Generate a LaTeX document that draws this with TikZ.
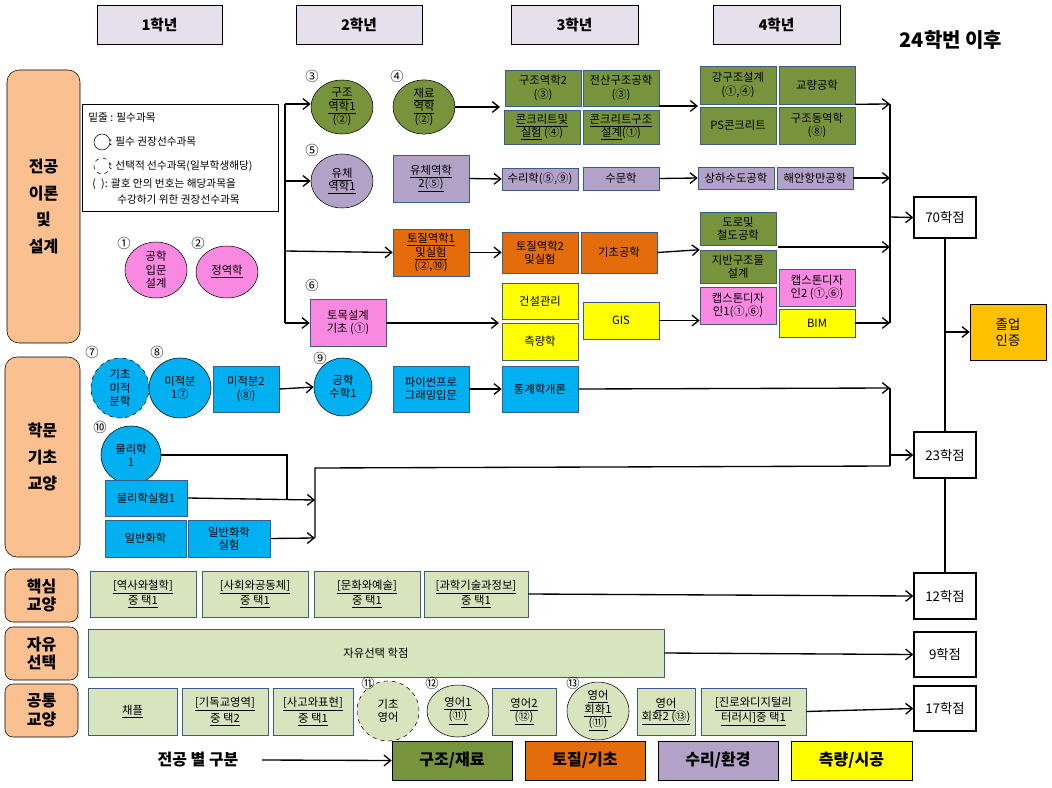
\documentclass[tikz,border=0pt]{standalone}
\usepackage{fontspec}
\setmainfont{Noto Sans CJK KR}
\usetikzlibrary{shapes.geometric,arrows.meta}
\definecolor{cg}{HTML}{77933C}
\definecolor{co}{HTML}{E46C0A}
\definecolor{cp}{HTML}{B3A2C7}
\definecolor{cy}{HTML}{FFFF00}
\definecolor{ck}{HTML}{F888E0}
\definecolor{cb}{HTML}{00B0F0}
\definecolor{cl}{HTML}{D7E4BD}
\definecolor{ch}{HTML}{E6E0EC}
\definecolor{cf}{HTML}{FAC090}
\definecolor{cgold}{HTML}{FFC000}
\definecolor{bd}{HTML}{385D8A}
\newcommand\bx[7]{\node[#6, minimum width={(#4-#2)*0.75pt}, minimum height={(#5-#3)*0.75pt}] (#1) at ({(#2+#4)/2},{(#3+#5)/2}) {#7};}
\newcommand\el[7]{\node[ellipse, draw=black, inner sep=0pt, align=center, font=\fontsize{8.5}{10}\selectfont, minimum width={2*#4*0.75pt}, minimum height={2*#5*0.75pt}, #6] (#1) at (#2,#3) {#7};}
\newcommand\lb[3]{\node[font=\fontsize{10}{10}\selectfont, inner sep=0pt] (#1) at (#2,#3) {};}
\tikzset{
 box/.style={draw=bd, inner sep=1pt, align=center, font=\fontsize{8.5}{10}\selectfont},
 hdr/.style={draw=black, fill=ch, font=\fontsize{11}{12}\selectfont\bfseries},
 cat/.style={draw=black, fill=cf, rounded corners=9pt, align=center, font=\fontsize{12}{20}\selectfont\bfseries},
 res/.style={draw=black, line width=1pt, fill=white, font=\fontsize{10}{12}\selectfont},
 ar/.style={-{Straight Barb[length=5pt,width=8pt]}, line width=1pt},
 ln/.style={line width=1pt},
 num/.style={font=\fontsize{10}{10}\selectfont, inner sep=0pt},
 leg/.style={draw=black, align=center, font=\fontsize{12}{14}\selectfont\bfseries}
}
\begin{document}
\begin{tikzpicture}[x=0.75pt,y=-0.75pt]
\useasboundingbox (0,0) rectangle (1052,788);
% headers
\bx{h1}{97}{5}{222}{44}{hdr}{1학년}
\bx{h2}{296}{5}{422}{44}{hdr}{2학년}
\bx{h3}{511}{5}{638}{44}{hdr}{3학년}
\bx{h4}{713}{5}{840}{44}{hdr}{4학년}
\node[font=\fontsize{15}{16}\selectfont\bfseries] (title) at (951,40) {24학번 이후};
% categories
\bx{c1}{7}{70}{80}{343}{cat}{전공\\이론\\및\\설계}
\bx{c2}{5}{357}{80}{557}{cat}{학문\\기초\\교양}
\bx{c3}{5}{569}{78}{622}{cat,font=\fontsize{12}{14}\selectfont\bfseries,rounded corners=6pt}{핵심\\교양}
\bx{c4}{5}{627}{78}{680}{cat,font=\fontsize{12}{14}\selectfont\bfseries,rounded corners=6pt}{자유\\선택}
\bx{c5}{5}{684}{78}{737}{cat,font=\fontsize{12}{14}\selectfont\bfseries,rounded corners=6pt}{공통\\교양}
% legend
\bx{lg}{82}{104}{278}{211}{draw=black}{}
\node[anchor=west, font=\fontsize{8}{9}\selectfont, inner sep=0] (lg1) at (88,118) {밑줄 : 필수과목};
\node[draw=black, circle, minimum size=12pt, inner sep=0] (lgc) at (102,142) {};
\node[anchor=west, font=\fontsize{8}{9}\selectfont, inner sep=0] (lg2) at (109,142) {: 필수 권장선수과목};
\node[draw=black, dashed, circle, minimum size=12pt, inner sep=0] (lgd) at (102,166) {};
\node[anchor=west, font=\fontsize{8}{9}\selectfont, inner sep=0] (lg3) at (109,166) {: 선택적 선수과목(일부학생해당)};
\node[anchor=west, font=\fontsize{8}{9}\selectfont, inner sep=0] (lg4) at (92,184) {(\,\,\,): 괄호 안의 번호는 해당과목을};
\node[anchor=west, font=\fontsize{8}{9}\selectfont, inner sep=0] (lg5) at (117,200) {수강하기 위한 권장선수과목};
% year 1 major
\el{a1}{156}{270}{31}{28}{fill=ck}{공학\\입문\\설계}
\node[num] (n1) at (124,243) {①};
\el{a2}{227}{272}{31}{26}{fill=ck}{\underline{정역학}}
\node[num] (n2) at (198,243) {②};
% year 2 major
\el{b1}{342}{107}{31}{27}{fill=cg}{\underline{구조}\\\underline{역학1}\\(②)}
\node[num] (n3) at (312,76) {③};
\el{b2}{424}{107}{31}{27}{fill=cg}{\underline{재료}\\\underline{역학}\\(②)}
\node[num] (n4) at (397,76) {④};
\el{b3}{342}{181}{31}{27}{fill=cp}{\underline{유체}\\\underline{역학1}}
\node[num] (n5) at (312,150) {⑤};
\bx{b4}{393}{155}{469}{202}{box,fill=cp}{\underline{유체역학}\\\underline{2(⑤)}}
\bx{b5}{393}{229}{469}{276}{box,fill=co}{\underline{토질역학1}\\\underline{및실험}\\(②,⑩)}
\bx{b6}{310}{299}{386}{346}{box,fill=ck}{토목설계\\기초 (①)}
\node[num] (n6) at (312,285) {⑥};
% year 3 major
\bx{g1}{505}{70}{581}{106}{box,fill=cg}{구조역학2\\(③)}
\bx{g2}{583}{70}{659}{106}{box,fill=cg}{전산구조공학\\(③)}
\bx{g3}{504}{110}{580}{144}{box,fill=cg}{\underline{콘크리트및}\\\underline{실험} (④)}
\bx{g4}{583}{110}{659}{144}{box,fill=cg}{\underline{콘크리트구조}\\\underline{설계}(①)}
\bx{p1}{502}{168}{578}{190}{box,fill=cp}{수리학(⑤,⑨)}
\bx{p2}{583}{167}{659}{190}{box,fill=cp}{수문학}
\bx{o1}{502}{232}{578}{273}{box,fill=co}{토질역학2\\및실험}
\bx{o2}{581}{232}{657}{273}{box,fill=co}{기초공학}
\bx{y1}{502}{283}{578}{319}{box,fill=cy}{건설관리}
\bx{y2}{502}{323}{578}{360}{box,fill=cy}{측량학}
\bx{y3}{583}{302}{659}{339}{box,fill=cy}{GIS}
% year 4 major
\bx{d1}{700}{66}{776}{104}{box,fill=cg}{강구조설계\\(①,④)}
\bx{d2}{779}{66}{855}{104}{box,fill=cg}{교량공학}
\bx{d3}{700}{107}{776}{144}{box,fill=cg}{PS콘크리트}
\bx{d4}{779}{107}{855}{144}{box,fill=cg}{구조동역학\\(⑧)}
\bx{d5}{698}{167}{774}{189}{box,fill=cp}{상하수도공학}
\bx{d6}{777}{167}{853}{189}{box,fill=cp}{해안항만공학}
\bx{d7}{700}{212}{776}{245}{box,fill=cg}{도로및\\철도공학}
\bx{d8}{700}{250}{776}{283}{box,fill=cg}{지반구조물\\설계}
\bx{d9}{700}{287}{776}{324}{box,fill=ck}{캡스톤디자\\인1(①,⑥)}
\bx{d10}{779}{269}{855}{306}{box,fill=ck}{캡스톤디자\\인2 (①,⑥)}
\bx{d11}{779}{309}{855}{337}{box,fill=cy}{BIM}
% results
\bx{r70}{914}{197}{976}{238}{res}{70학점}
\bx{r23}{914}{432}{976}{478}{res}{23학점}
\bx{r12}{914}{573}{976}{619}{res}{12학점}
\bx{r9}{914}{632}{976}{677}{res}{9학점}
\bx{r17}{914}{686}{976}{731}{res}{17학점}
\bx{grad}{970}{304}{1046}{360}{draw=black,fill=cgold,align=center,font=\fontsize{10}{12}\selectfont}{졸업\\인증}
% basic science
\el{m1}{120}{388}{29}{30}{fill=cb,dashed}{기초\\미적\\분학}
\node[num] (n7) at (92,352) {⑦};
\el{m2}{180}{388}{31}{30}{fill=cb}{미적분\\1⑦}
\node[num] (n8) at (157,352) {⑧};
\bx{m3}{213}{366}{279}{412}{box,fill=cb}{미적분2\\(⑧)}
\el{m4}{343}{387}{29}{29}{fill=cb}{공학\\수학1}
\node[num] (n9) at (320,358) {⑨};
\bx{m5}{393}{366}{469}{412}{box,fill=cb}{파이썬프로\\그래밍입문}
\bx{m6}{502}{366}{578}{412}{box,fill=cb}{통계학개론}
\el{f1}{131}{455}{30}{29}{fill=cb}{물리학\\1}
\node[num] (n10) at (100,427) {⑩};
\bx{f2}{105}{480}{187}{516}{box,fill=cb}{물리학실험1}
\bx{f3}{105}{520}{186}{557}{box,fill=cb}{일반화학}
\bx{f4}{188}{520}{270}{557}{box,fill=cb}{일반화학\\실험}
% core liberal
\bx{k1}{90}{571}{196}{617}{box,fill=cl}{\underline{[역사와철학]}\\\underline{중 택1}}
\bx{k2}{202}{571}{308}{617}{box,fill=cl}{\underline{[사회와공동체]}\\\underline{중 택1}}
\bx{k3}{314}{571}{420}{617}{box,fill=cl}{\underline{[문화와예술]}\\\underline{중 택1}}
\bx{k4}{424}{571}{528}{617}{box,fill=cl}{\underline{[과학기술과정보]}\\\underline{중 택1}}
\bx{fr}{88}{629}{664}{677}{box,fill=cl}{자유선택 학점}
\bx{e1}{88}{688}{177}{735}{box,fill=cl}{\underline{채플}}
\bx{e2}{182}{688}{268}{735}{box,fill=cl}{\underline{[기독교영역]}\\\underline{중 택2}}
\bx{e3}{273}{688}{353}{735}{box,fill=cl}{\underline{[사고와표현]}\\\underline{중 택1}}
\el{e4}{388}{711}{31}{30}{fill=cl,dashed}{기초\\영어}
\node[num] (n11) at (368,683) {⑪};
\el{e5}{458}{711}{31}{26}{fill=cl}{\underline{영어1}\\\underline{(⑪)}}
\node[num] (n12) at (432,683) {⑫};
\bx{e6}{492}{688}{556}{735}{box,fill=cl}{\underline{영어2}\\\underline{(⑫)}}
\el{e7}{598}{711}{31}{28}{fill=cl}{\underline{영어}\\\underline{회화1}\\\underline{(⑪)}}
\node[num] (n13) at (573,683) {⑬};
\bx{e8}{637}{688}{695}{735}{box,fill=cl}{\underline{영어}\\\underline{회화2 (⑬)}}
\bx{e9}{701}{688}{806}{735}{box,fill=cl}{\underline{[진로와디지털리}\\\underline{터러시]중 택1}}
% bottom legend
\node[font=\fontsize{12}{14}\selectfont\bfseries] (sep) at (198,760) {전공 별 구분};
\coordinate (sepa) at (262,760);
\bx{L1}{392}{741}{512}{780}{leg,fill=cg}{구조/재료}
\bx{L2}{525}{741}{645}{780}{leg,fill=co}{토질/기초}
\bx{L3}{658}{741}{778}{780}{leg,fill=cp}{수리/환경}
\bx{L4}{791}{741}{912}{780}{leg,fill=cy}{측량/시공}
\draw[ar] (sepa) -- (L1.west);
% trunks 2nd year
\coordinate (t1) at (285,104);
\coordinate (t2) at (285,323);
\draw[ln] (t1) -- (t2);
\draw[ar] (t1) -- (b1.west |- t1);
\draw[ar] (285,181) -- (b3.west);
\draw[ar] (285,251) -- (b5.west);
\draw[ar] (t2) -- (b6.west |- t2);
\draw[ar] (b2.east) -- (500,107);
\draw[ar] (b4.east) -- (p1.west);
\draw[ar] (b5.east) -- (o1.west |- b5.east);
\draw[ar] (b6.east |- t2) -- (499,323);
\draw[ar] (g2.south east) ++(0,0) coordinate (gg) (659,106) -- (698,106);
\draw[ar] (p2.east) -- (d5.west);
\draw[ar] (o2.east) -- (d8.north west);
\draw[ar] (y3.east) -- (d9.west |- y3.east);
% trunk 4th year
\coordinate (u1) at (890,104);
\coordinate (u2) at (890,323);
\draw[ln] (u1) -- (u2);
\draw[ar] (d2.south east) -- (u1);
\draw[ar] (d6.east) -- (890,178);
\draw[ar] (778,247) -- (890,247);
\draw[ar] (d11.east) -- (u2);
\draw[ar] (890,217) -- (r70.west);
% basic science connectors
\draw[ar] (m3.east) -- (m4.west);
\draw[ar] (m5.east) -- (m6.west);
\draw[ar] (m6.east) -- (890,388);
\draw[ln] (890,388) -- (890,466);
\draw[ln] (f1.east) -- (287,455) -- (287,500);
\draw[ar] (f2.east) -- (315,500);
\draw[ar] (f4.east) -- (315,538);
\draw[ln] (315,538) -- (315,468) -- (890,466);
\draw[ar] (890,455) -- (r23.west);
% result links
\draw[ln] (r70.south) -- (r23.north);
\draw[ln] (r23.south) -- (r12.north);
\draw[ar] (945,332) -- (grad.west);
\draw[ar] (k4.east) -- (r12.west);
\draw[ar] (fr.east) -- (r9.west);
\draw[ar] (e9.east) -- (r17.west);
\end{tikzpicture}
\end{document}
